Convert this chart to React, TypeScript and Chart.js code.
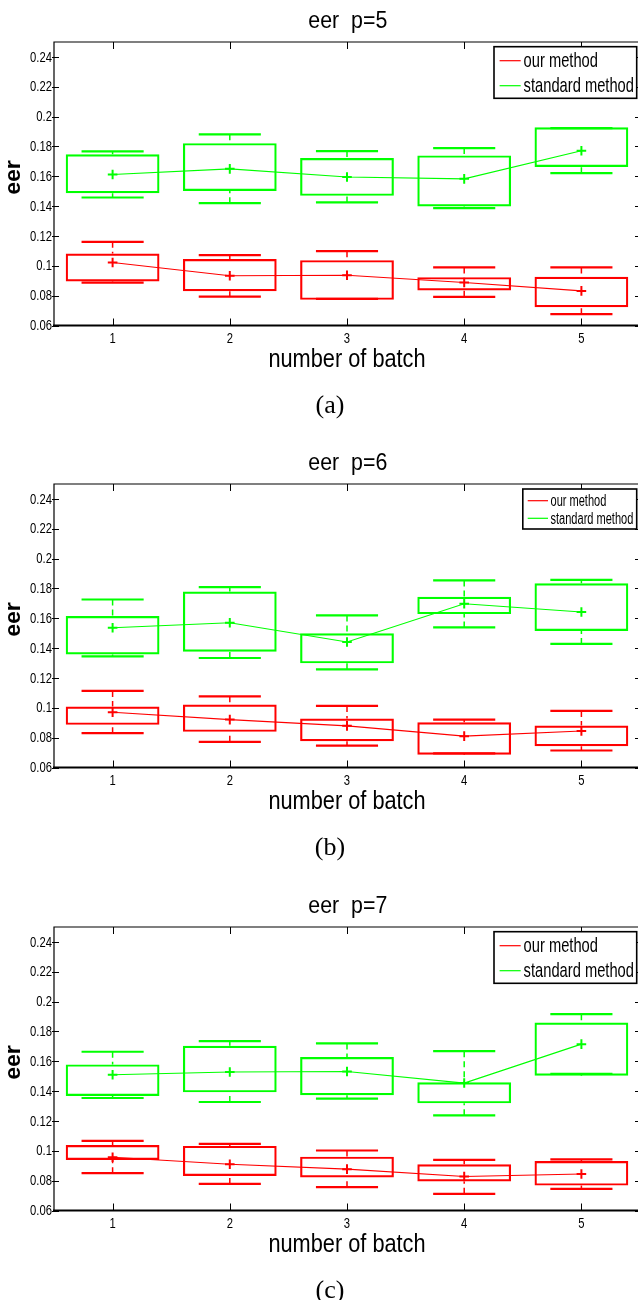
import React, { useEffect, useRef } from 'react';
import { Chart, registerables } from 'chart.js';

Chart.register(...registerables);

// ---------- data ----------
const batches = ['1', '2', '3', '4', '5'];
const yTickValues = [0.06, 0.08, 0.1, 0.12, 0.14, 0.16, 0.18, 0.2, 0.22, 0.24];
const yTickLabels = ['0.06', '0.08', '0.1', '0.12', '0.14', '0.16', '0.18', '0.2', '0.22', '0.24'];
const seriesLabels = ['our method', 'standard method'];
const panelTitles = ['eer  p=5', 'eer  p=6', 'eer  p=7'];
const panelCaptions = ['(a)', '(b)', '(c)'];
const xAxisTitle = 'number of batch';
const yAxisTitle = 'eer';

// p = 5
const p5OurMean = [0.1022, 0.0933, 0.0937, 0.0888, 0.0832];
const p5OurBoxLow = [0.0895, 0.083, 0.0772, 0.0835, 0.0723];
const p5OurBoxHigh = [0.1083, 0.1045, 0.1038, 0.0924, 0.0926];
const p5OurWhiskerLow = [0.0888, 0.0794, 0.0779, 0.0792, 0.0676];
const p5OurWhiskerHigh = [0.1161, 0.1072, 0.1098, 0.0989, 0.0989];
const p5StdMean = [0.1612, 0.165, 0.1595, 0.1583, 0.1771];
const p5StdBoxLow = [0.1487, 0.1501, 0.1469, 0.1398, 0.1662];
const p5StdBoxHigh = [0.1747, 0.1822, 0.1722, 0.174, 0.1928];
const p5StdWhiskerLow = [0.1458, 0.142, 0.1425, 0.1387, 0.1621];
const p5StdWhiskerHigh = [0.1767, 0.1881, 0.1769, 0.1789, 0.1923];

// p = 6
const p6OurMean = [0.097, 0.0921, 0.0879, 0.081, 0.0845];
const p6OurBoxLow = [0.0886, 0.0839, 0.0776, 0.0685, 0.0743];
const p6OurBoxHigh = [0.1008, 0.1022, 0.0928, 0.0903, 0.0881];
const p6OurWhiskerLow = [0.083, 0.0772, 0.0747, 0.0694, 0.0714];
const p6OurWhiskerHigh = [0.1113, 0.1077, 0.1013, 0.0921, 0.0979];
const p6StdMean = [0.1537, 0.157, 0.1441, 0.1697, 0.1642];
const p6StdBoxLow = [0.1358, 0.1376, 0.1298, 0.1628, 0.1515];
const p6StdBoxHigh = [0.1615, 0.178, 0.1499, 0.1744, 0.1834];
const p6StdWhiskerLow = [0.1345, 0.1334, 0.1258, 0.1539, 0.1428];
const p6StdWhiskerHigh = [0.1726, 0.1809, 0.1619, 0.1854, 0.1858];

// p = 7
const p7OurMean = [0.0957, 0.091, 0.0877, 0.0828, 0.0845];
const p7OurBoxLow = [0.0939, 0.0832, 0.0821, 0.0794, 0.0767];
const p7OurBoxHigh = [0.1039, 0.1033, 0.0961, 0.091, 0.0932];
const p7OurWhiskerLow = [0.085, 0.0778, 0.0756, 0.0712, 0.0745];
const p7OurWhiskerHigh = [0.1066, 0.1046, 0.1002, 0.0939, 0.0943];
const p7StdMean = [0.151, 0.1528, 0.1532, 0.1454, 0.1715];
const p7StdBoxLow = [0.1367, 0.1392, 0.1372, 0.1318, 0.1503];
const p7StdBoxHigh = [0.1579, 0.1704, 0.1628, 0.1459, 0.186];
const p7StdWhiskerLow = [0.1354, 0.1327, 0.135, 0.1238, 0.1515];
const p7StdWhiskerHigh = [0.1664, 0.1735, 0.172, 0.1668, 0.1916];

// ---------- styling / layout ----------
const RED = '#ff0000';
const GREEN = '#00ff00';
const SANS = '"Liberation Sans", Arial, Helvetica, sans-serif';
const SERIF = '"Liberation Serif", "Times New Roman", serif';

const CANVAS_W = 660;
const CANVAS_H = 442;
const PLOT_LEFT = 54;
const PLOT_RIGHT = 640;
const PLOT_TOP = 42;
const PLOT_BOTTOM = 325.5;

const panelTops = [0, 442, 885];

type Series = { mean: number[]; boxLow: number[]; boxHigh: number[]; whiskerLow: number[]; whiskerHigh: number[] };

const panelSeries: Series[][] = [
  [
    { mean: p5OurMean, boxLow: p5OurBoxLow, boxHigh: p5OurBoxHigh, whiskerLow: p5OurWhiskerLow, whiskerHigh: p5OurWhiskerHigh },
    { mean: p5StdMean, boxLow: p5StdBoxLow, boxHigh: p5StdBoxHigh, whiskerLow: p5StdWhiskerLow, whiskerHigh: p5StdWhiskerHigh },
  ],
  [
    { mean: p6OurMean, boxLow: p6OurBoxLow, boxHigh: p6OurBoxHigh, whiskerLow: p6OurWhiskerLow, whiskerHigh: p6OurWhiskerHigh },
    { mean: p6StdMean, boxLow: p6StdBoxLow, boxHigh: p6StdBoxHigh, whiskerLow: p6StdWhiskerLow, whiskerHigh: p6StdWhiskerHigh },
  ],
  [
    { mean: p7OurMean, boxLow: p7OurBoxLow, boxHigh: p7OurBoxHigh, whiskerLow: p7OurWhiskerLow, whiskerHigh: p7OurWhiskerHigh },
    { mean: p7StdMean, boxLow: p7StdBoxLow, boxHigh: p7StdBoxHigh, whiskerLow: p7StdWhiskerLow, whiskerHigh: p7StdWhiskerHigh },
  ],
];

const legendBig = { x0: 494, x1: 636.7, y0: 46.7, y1: 98.3, rows: [60.7, 85.7], lineX0: 499.6, lineX1: 520.7, textX: 523.6, size: 21, hscale: 0.7 };
const legendSmall = { x0: 522.8, x1: 636.7, y0: 47, y1: 87, rows: [58.7, 76.3], lineX0: 527.7, lineX1: 548, textX: 550.5, size: 16, hscale: 0.69 };
const panelLegends = [legendBig, legendSmall, legendBig];

function drawText(
  ctx: CanvasRenderingContext2D,
  text: string,
  x: number,
  y: number,
  font: string,
  hscale: number,
  align: CanvasTextAlign,
  baseline: CanvasTextBaseline,
  rotate = 0
) {
  ctx.save();
  ctx.translate(x, y);
  if (rotate) ctx.rotate(rotate);
  ctx.scale(hscale, 1);
  ctx.font = font;
  ctx.textAlign = align;
  ctx.textBaseline = baseline;
  ctx.fillStyle = '#000';
  ctx.fillText(text, 0, 0);
  ctx.restore();
}

function makePlugins(panelIndex: number) {
  const series = panelSeries[panelIndex];
  const colors = [RED, GREEN];
  const legend = panelLegends[panelIndex];

  const whiskerPlugin = {
    id: 'whiskers' + panelIndex,
    afterDatasetDraw(chart: any, args: any) {
      if (args.index > 1) return;
      const s = series[args.index];
      const color = colors[args.index];
      const xs = chart.scales.x;
      const ys = chart.scales.y;
      const ctx: CanvasRenderingContext2D = chart.ctx;
      const step = xs.getPixelForValue(1) - xs.getPixelForValue(0);
      const capHalf = step * 0.265;
      ctx.save();
      ctx.strokeStyle = color;
      batches.forEach((_, i) => {
        const cx = xs.getPixelForValue(i);
        const yHi = ys.getPixelForValue(s.whiskerHigh[i]);
        const yLo = ys.getPixelForValue(s.whiskerLow[i]);
        const yBoxHi = ys.getPixelForValue(s.boxHigh[i]);
        const yBoxLo = ys.getPixelForValue(s.boxLow[i]);
        ctx.lineWidth = 1.5;
        ctx.setLineDash([6, 4]);
        ctx.beginPath();
        ctx.moveTo(cx, yHi);
        ctx.lineTo(cx, yBoxHi);
        ctx.moveTo(cx, yLo);
        ctx.lineTo(cx, yBoxLo);
        ctx.stroke();
        ctx.setLineDash([]);
        ctx.lineWidth = 2.2;
        ctx.beginPath();
        ctx.moveTo(cx - capHalf, yHi);
        ctx.lineTo(cx + capHalf, yHi);
        ctx.moveTo(cx - capHalf, yLo);
        ctx.lineTo(cx + capHalf, yLo);
        ctx.stroke();
      });
      ctx.restore();
    },
  };

  const framePlugin = {
    id: 'frame' + panelIndex,
    afterDraw(chart: any) {
      const ctx: CanvasRenderingContext2D = chart.ctx;
      const xs = chart.scales.x;
      const ys = chart.scales.y;
      const { left, right, top, bottom } = chart.chartArea;
      ctx.save();
      ctx.strokeStyle = '#000';
      ctx.lineWidth = 1.2;
      ctx.beginPath();
      ctx.moveTo(left, bottom);
      ctx.lineTo(left, top);
      ctx.lineTo(right, top);
      ctx.lineTo(right, bottom);
      ctx.stroke();
      ctx.lineWidth = 2.2;
      ctx.beginPath();
      ctx.moveTo(left - 1, bottom);
      ctx.lineTo(right, bottom);
      ctx.stroke();
      ctx.lineWidth = 1;
      ctx.beginPath();
      yTickValues.forEach((v) => {
        const y = Math.round(ys.getPixelForValue(v)) + 0.5;
        ctx.moveTo(left - 2, y);
        ctx.lineTo(left + 5, y);
        ctx.moveTo(right - 5, y);
        ctx.lineTo(right, y);
      });
      batches.forEach((_, i) => {
        const x = Math.round(xs.getPixelForValue(i)) + 0.5;
        ctx.moveTo(x, bottom);
        ctx.lineTo(x, bottom - 7);
        ctx.moveTo(x, top);
        ctx.lineTo(x, top + 7);
      });
      ctx.stroke();
      ctx.restore();

      const tickFont = `15px ${SANS}`;
      yTickValues.forEach((v, i) => {
        drawText(ctx, yTickLabels[i], left - 2, ys.getPixelForValue(v) + 0.5, tickFont, 0.75, 'right', 'middle');
      });
      batches.forEach((b, i) => {
        drawText(ctx, b, xs.getPixelForValue(i), bottom + 17, tickFont, 0.75, 'center', 'alphabetic');
      });

      drawText(ctx, panelTitles[panelIndex], 347.8, 27.5, `24px ${SANS}`, 0.89, 'center', 'alphabetic');
      drawText(ctx, xAxisTitle, 347, 367, `25px ${SANS}`, 0.87, 'center', 'alphabetic');
      drawText(ctx, yAxisTitle, 14, 177.5, `bold 22px ${SANS}`, 1.05, 'center', 'middle', -Math.PI / 2);
      drawText(ctx, panelCaptions[panelIndex], 330, 413, `26px ${SERIF}`, 1, 'center', 'alphabetic');

      ctx.save();
      ctx.fillStyle = '#fff';
      ctx.fillRect(legend.x0, legend.y0, legend.x1 - legend.x0, legend.y1 - legend.y0);
      ctx.strokeStyle = '#000';
      ctx.lineWidth = 1.6;
      ctx.strokeRect(legend.x0, legend.y0, legend.x1 - legend.x0, legend.y1 - legend.y0);
      ctx.lineWidth = 1.2;
      seriesLabels.forEach((_, i) => {
        ctx.strokeStyle = colors[i];
        ctx.beginPath();
        ctx.moveTo(legend.lineX0, legend.rows[i]);
        ctx.lineTo(legend.lineX1, legend.rows[i]);
        ctx.stroke();
      });
      ctx.restore();
      seriesLabels.forEach((label, i) => {
        drawText(ctx, label, legend.textX, legend.rows[i] + 1, `${legend.size}px ${SANS}`, legend.hscale, 'left', 'middle');
      });
    },
  };

  return [whiskerPlugin, framePlugin];
}

function Panel({ index }: { index: number }) {
  const ref = useRef<HTMLCanvasElement | null>(null);

  useEffect(() => {
    if (!ref.current) return;
    const [our, std] = panelSeries[index];
    const boxDataset = (s: Series, label: string, color: string) =>
      ({
        type: 'bar',
        label,
        data: s.boxLow.map((lo, i) => [lo, s.boxHigh[i]]),
        backgroundColor: 'rgba(0,0,0,0)',
        borderColor: color,
        borderWidth: 2.2,
        borderSkipped: false,
        barPercentage: 0.8,
        categoryPercentage: 1,
        grouped: false,
        order: 3,
      } as any);
    const meanDataset = (s: Series, label: string, color: string) =>
      ({
        type: 'line',
        label,
        data: s.mean,
        borderColor: color,
        borderWidth: 1.1,
        pointStyle: 'cross',
        pointRadius: 4.8,
        pointBorderWidth: 2,
        pointBorderColor: color,
        pointBackgroundColor: color,
        fill: false,
        tension: 0,
        order: 1,
      } as any);
    const chart = new Chart(ref.current, {
      type: 'bar',
      data: {
        labels: batches,
        datasets: [
          boxDataset(our, seriesLabels[0] + ' box', RED),
          boxDataset(std, seriesLabels[1] + ' box', GREEN),
          meanDataset(our, seriesLabels[0], RED),
          meanDataset(std, seriesLabels[1], GREEN),
        ],
      },
      options: {
        animation: false,
        responsive: false,
        maintainAspectRatio: false,
        devicePixelRatio: 1,
        layout: {
          padding: {
            left: PLOT_LEFT,
            right: CANVAS_W - PLOT_RIGHT,
            top: PLOT_TOP,
            bottom: CANVAS_H - PLOT_BOTTOM,
          },
        },
        scales: {
          x: { type: 'category', display: false, offset: true, grid: { offset: true } },
          y: { type: 'linear', display: false, min: 0.06, max: 0.25 },
        },
        plugins: {
          legend: { display: false },
          tooltip: { enabled: false },
          title: { display: false },
        },
      } as any,
      plugins: makePlugins(index) as any,
    });
    return () => chart.destroy();
  }, [index]);

  return (
    <canvas
      ref={ref}
      width={CANVAS_W}
      height={CANVAS_H}
      style={{ position: 'absolute', left: 0, top: panelTops[index], width: CANVAS_W, height: CANVAS_H, display: 'block' }}
    />
  );
}

export default function App() {
  return (
    <div
      style={{
        position: 'absolute',
        left: 0,
        top: 0,
        width: 638,
        height: 1300,
        overflow: 'hidden',
        background: '#fff',
      }}
    >
      {[0, 1, 2].map((i) => (
        <Panel key={i} index={i} />
      ))}
    </div>
  );
}
